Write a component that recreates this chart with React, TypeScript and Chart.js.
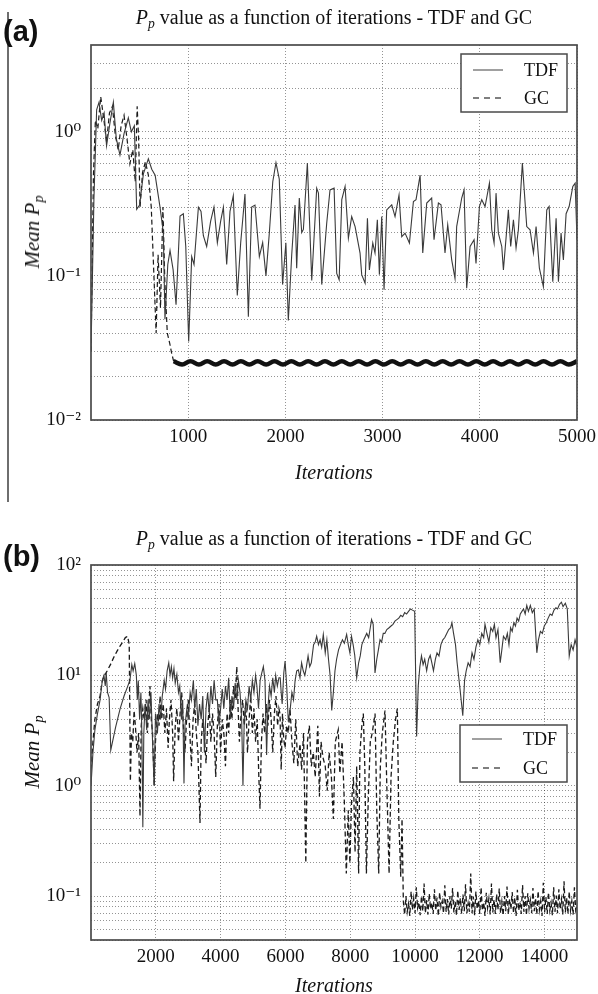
import React, { useEffect, useRef } from 'react';
import { Chart, registerables } from 'chart.js';

Chart.register(...registerables);

const SERIF = "'Liberation Serif', 'DejaVu Serif', serif";
const SANS = "'Liberation Sans', Arial, sans-serif";

// ---------------- Panel (a) data ----------------
const tdfAIters = [
  0, 30, 58, 82, 110, 135, 160, 195, 230, 260,
  298, 340, 384, 415, 446, 470, 500, 539, 590, 625,
  660, 710, 744, 761, 790, 813, 845, 875, 916, 950,
  975, 1005, 1036, 1060, 1105, 1132, 1156, 1190, 1231, 1265,
  1300, 1334, 1362, 1396, 1430, 1464, 1505, 1540, 1584, 1619,
  1653, 1687, 1732, 1766, 1800, 1835, 1870, 1903, 1937, 1971,
  2005, 2030, 2065, 2099, 2116, 2143, 2168, 2185, 2226, 2271,
  2322, 2340, 2374, 2425, 2459, 2501, 2528, 2553, 2580, 2614,
  2648, 2682, 2717, 2768, 2785, 2820, 2844, 2864, 2899, 2922,
  2946, 2967, 2991, 3015, 3042, 3094, 3128, 3169, 3197, 3231,
  3276, 3317, 3344, 3386, 3413, 3454, 3505, 3529, 3574, 3601,
  3642, 3670, 3711, 3745, 3762, 3814, 3838, 3865, 3900, 3941,
  3961, 3996, 4020, 4054, 4099, 4123, 4147, 4167, 4191, 4226,
  4243, 4294, 4318, 4346, 4373, 4397, 4438, 4483, 4517, 4552,
  4579, 4613, 4654, 4689, 4713, 4751, 4785, 4809, 4836, 4860,
  4888, 4919, 4957, 4981, 5000,
];
const tdfAValues = [
  0.03, 0.34, 1.42, 1.6, 1.2, 1.35, 0.8, 1.15, 1.6, 0.9,
  0.69, 0.97, 1.25, 1.0, 1.1, 0.29, 0.31, 0.51, 0.65, 0.55,
  0.5, 0.3, 0.2, 0.05, 0.12, 0.15, 0.11, 0.063, 0.26, 0.27,
  0.16, 0.035, 0.136, 0.12, 0.30, 0.28, 0.19, 0.16, 0.24, 0.30,
  0.17, 0.24, 0.30, 0.12, 0.28, 0.36, 0.073, 0.17, 0.37, 0.052,
  0.30, 0.31, 0.136, 0.17, 0.10, 0.2, 0.45, 0.61, 0.47, 0.087,
  0.17, 0.049, 0.14, 0.31, 0.113, 0.347, 0.2, 0.21, 0.606, 0.093,
  0.406, 0.375, 0.087, 0.232, 0.395, 0.406, 0.104, 0.094, 0.338, 0.417,
  0.183, 0.258, 0.22, 0.144, 0.102, 0.089, 0.251, 0.11, 0.169, 0.144,
  0.245, 0.102, 0.258, 0.08, 0.287, 0.311, 0.258, 0.365, 0.187, 0.198,
  0.169, 0.328, 0.338, 0.50, 0.144, 0.32, 0.347, 0.178, 0.32, 0.311,
  0.144, 0.226, 0.129, 0.096, 0.22, 0.347, 0.395, 0.082, 0.16, 0.178,
  0.122, 0.303, 0.338, 0.303, 0.44, 0.209, 0.169, 0.375, 0.198, 0.16,
  0.11, 0.287, 0.16, 0.245, 0.156, 0.209, 0.606, 0.22, 0.209, 0.144,
  0.22, 0.113, 0.084, 0.287, 0.303, 0.091, 0.251, 0.091, 0.198, 0.129,
  0.27, 0.303, 0.417, 0.44, 0.178,
];
const gcAIters = [
  0, 25, 45, 70, 100, 130, 160, 190, 220, 250,
  280, 310, 340, 370, 400, 430, 455, 475, 490, 505,
  530, 560, 590, 620, 650, 670, 690, 715, 740, 760,
  785, 810, 830, 850,
];
const gcAValues = [
  0.03, 0.5, 1.2, 1.05, 1.75, 1.25, 0.85, 1.35, 1.5, 0.95,
  0.75, 1.1, 1.3, 0.9, 0.6, 0.75, 0.45, 1.5, 0.9, 0.3,
  0.52, 0.62, 0.5, 0.3, 0.09, 0.04, 0.14, 0.06, 0.3, 0.09,
  0.04, 0.034, 0.029, 0.0256,
];
const gcABandIters = [
  850, 937, 1023, 1110, 1196, 1283, 1369, 1456, 1542, 1629,
  1715, 1802, 1888, 1975, 2061, 2148, 2234, 2321, 2407, 2494,
  2580, 2667, 2753, 2840, 2926, 3013, 3099, 3186, 3272, 3359,
  3445, 3532, 3618, 3705, 3791, 3878, 3964, 4051, 4137, 4224,
  4310, 4397, 4483, 4570, 4656, 4743, 4829, 4916, 5000,
];
const gcABandValues = [
  0.0256, 0.0243, 0.0256, 0.0243, 0.0256, 0.0243, 0.0256, 0.0243, 0.0256, 0.0243,
  0.0256, 0.0243, 0.0256, 0.0243, 0.0256, 0.0243, 0.0256, 0.0243, 0.0256, 0.0243,
  0.0256, 0.0243, 0.0256, 0.0243, 0.0256, 0.0243, 0.0256, 0.0243, 0.0256, 0.0243,
  0.0256, 0.0243, 0.0256, 0.0243, 0.0256, 0.0243, 0.0256, 0.0243, 0.0256, 0.0243,
  0.0256, 0.0243, 0.0256, 0.0243, 0.0256, 0.0243, 0.0256, 0.0243, 0.0256,
];
const xTicksA = [1000, 2000, 3000, 4000, 5000];
const yMajorA = [0.01, 0.1, 1];
const yMajorLabelsA = ['10⁻²', '10⁻¹', '10⁰'];
const yMinorA = [0.02, 0.03, 0.04, 0.05, 0.06, 0.07, 0.08, 0.09, 0.2, 0.3, 0.4, 0.5, 0.6, 0.7, 0.8, 0.9, 2, 3];

// ---------------- Panel (b) data ----------------
const tdfBIters = [
  0, 60, 120, 200, 280, 350, 400, 440, 470, 510,
  560, 610, 760, 900, 1020, 1100, 1200, 1260, 1300, 1350,
  1400, 1430, 1460, 1500, 1540, 1570, 1600, 1630, 1670, 1720,
  1760, 1800, 1850, 1900, 1950, 1990, 2050, 2100, 2150, 2200,
  2260, 2300, 2350, 2400, 2440, 2480, 2520, 2560, 2600, 2650,
  2700, 2740, 2790, 2830, 2870, 2900, 2960, 3000, 3060, 3100,
  3160, 3200, 3250, 3300, 3350, 3400, 3450, 3500, 3550, 3600,
  3650, 3700, 3750, 3800, 3850, 3900, 3950, 4000, 4050, 4100,
  4150, 4200, 4250, 4300, 4350, 4400, 4450, 4500, 4550, 4600,
  4650, 4690, 4730, 4780, 4830, 4880, 4930, 4980, 5030, 5080,
  5120, 5170, 5220, 5270, 5320, 5370, 5420, 5460, 5510, 5560,
  5610, 5660, 5700, 5750, 5800, 5840, 5870, 5900, 5950, 5990,
  6040, 6090, 6150, 6200, 6250, 6300, 6350, 6400, 6450, 6500,
  6550, 6600, 6650, 6700, 6750, 6800, 6870, 6920, 6965, 7020,
  7070, 7120, 7170, 7230, 7280, 7330, 7380, 7430, 7480, 7530,
  7580, 7640, 7700, 7760, 7820, 7890, 7940, 7990, 8040, 8090,
  8140, 8200, 8260, 8310, 8360, 8420, 8510, 8570, 8620, 8660,
  8710, 8765, 8820, 8870, 8920, 8970, 9020, 9070, 9130, 9200,
  9260, 9320, 9380, 9440, 9500, 9560, 9620, 9680, 9740, 9800,
  9860, 9920, 9990, 10050, 10100, 10150, 10200, 10250, 10300, 10360,
  10420, 10470, 10520, 10570, 10630, 10680, 10740, 10800, 10860, 10920,
  10980, 11040, 11100, 11140, 11190, 11250, 11300, 11390, 11475, 11530,
  11580, 11640, 11700, 11760, 11820, 11880, 11940, 12000, 12060, 12120,
  12160, 12220, 12280, 12340, 12400, 12450, 12500, 12560, 12630, 12680,
  12730, 12800, 12850, 12900, 12950, 13000, 13050, 13100, 13150, 13200,
  13250, 13300, 13350, 13400, 13450, 13500, 13560, 13620, 13680, 13760,
  13810, 13870, 13930, 13990, 14050, 14110, 14170, 14230, 14290, 14350,
  14400, 14460, 14520, 14570, 14640, 14700, 14760, 14820, 14880, 14940,
  15000,
];
const tdfBValues = [
  1.0, 2.0, 3.2, 4.5, 6, 9, 10, 8, 10.5, 7,
  6.3, 2.1, 3.4, 5, 6.5, 7.5, 9, 12.5, 11, 12.8,
  10, 6, 9, 4, 7, 3, 0.42, 3, 5.5, 3.2,
  6, 4, 7, 2.5, 1.0, 4.5, 3, 5.5, 4, 6.5,
  9, 7.5, 11, 13, 10, 12, 9.5, 11.5, 8.5, 10.2,
  7, 8, 4, 6, 1.05, 3.5, 5, 4, 7, 6,
  9, 5, 7.5, 3.5, 5.5, 4, 6.5, 2, 5, 7,
  4.5, 8, 5.5, 9, 6, 6, 3.5, 5, 7.5, 5,
  8, 6, 9.5, 4, 6.5, 5, 8.5, 6, 9, 7,
  4, 1.0, 4, 6, 5, 8, 6, 9, 7, 10,
  8, 5, 9, 10.5, 12, 9, 1.9, 5, 8, 6.5,
  9.5, 7, 10, 8, 9.5, 9.5, 7, 5.5, 10.5, 13.5,
  8, 3.8, 5, 7, 6, 9, 11, 11.2, 9.5, 13,
  11, 10, 12, 15, 12, 13, 19, 20, 22.6, 19,
  21, 18, 23.5, 16, 21, 14, 10, 4.8, 7, 11,
  14, 17, 19, 21, 19.5, 23.5, 19, 16, 22.6, 19,
  15.2, 9.5, 13, 15, 19, 21, 24, 22, 27, 32,
  29, 10.5, 14, 17, 21, 20, 24, 24, 26, 27,
  28, 29, 31, 32, 33, 35, 34, 37, 36, 38,
  40, 39, 38, 2.8, 8, 12, 15, 12.5, 14, 11,
  14, 15.2, 13, 11, 14, 16, 15, 19, 21, 22,
  24, 26, 27, 30, 24, 19, 13, 7.5, 4.3, 9,
  11, 13, 12, 16, 14, 18, 21, 19, 24, 22,
  29, 24, 20, 27, 25, 29, 22, 26, 13, 17,
  22.6, 21, 24, 19, 27, 25, 30, 28, 33, 31,
  36, 38, 40, 36, 43, 38, 43, 37, 40, 16,
  21, 25, 24, 28, 30, 33, 36, 35, 39, 41,
  40, 44, 46, 42, 45, 40, 15, 19, 17, 21,
  18,
];
const gcBIters = [
  0, 60, 120, 200, 280, 350, 420, 500, 600, 700,
  800, 900, 1000, 1060, 1130, 1180, 1215, 1250, 1290, 1330,
  1370, 1420, 1470, 1512, 1550, 1600, 1640, 1700, 1740, 1780,
  1820, 1860, 1900, 1950, 1990, 2050, 2100, 2130, 2180, 2230,
  2280, 2330, 2380, 2420, 2470, 2520, 2550, 2600, 2650, 2700,
  2750, 2800, 2850, 2900, 2950, 3000, 3050, 3100, 3150, 3200,
  3250, 3300, 3364, 3400, 3450, 3500, 3550, 3600, 3650, 3700,
  3750, 3800, 3850, 3900, 3950, 4000, 4050, 4100, 4150, 4200,
  4250, 4300, 4350, 4400, 4450, 4500, 4540, 4580, 4620, 4680,
  4730, 4780, 4830, 4880, 4930, 4980, 5030, 5080, 5130, 5180,
  5216, 5260, 5310, 5360, 5410, 5460, 5510, 5560, 5610, 5660,
  5710, 5760, 5800, 5833, 5870, 5910, 5950, 5990, 6040, 6090,
  6142, 6200, 6260, 6320, 6380, 6450, 6500, 6560, 6630, 6680,
  6740, 6800, 6862, 6920, 7000, 7050, 7100, 7160, 7230, 7290,
  7350, 7420, 7480, 7540, 7630, 7680, 7750, 7820, 7880, 7940,
  7990, 8040, 8100, 8150, 8200, 8260, 8300, 8360, 8405, 8450,
  8500, 8560, 8620, 8680, 8767, 8820, 8880, 8930, 8990, 9074,
  9130, 9200, 9260, 9330, 9400, 9455, 9500, 9560, 9600,
];
const gcBValues = [
  1.4, 2.5, 4, 5.5, 6.5, 9, 10, 11, 12.5, 14.5,
  16.5, 18.5, 20.5, 22, 22.6, 19, 1.1, 3, 2.5, 4.8,
  3.5, 2, 3, 0.53, 3.5, 5, 4, 6, 3, 5,
  8, 4, 3, 1.0, 2.5, 4.5, 3.5, 6.5, 4, 5.5,
  3, 5, 2.2, 4, 6, 3, 1.1, 3.5, 5, 2.5,
  4.5, 7, 3.5, 2, 4, 6, 3, 1.5, 4, 5.5,
  3, 2, 0.46, 2.5, 4, 2.8, 1.6, 3.5, 5, 2.5,
  4.5, 3, 1.2, 3.5, 5.5, 2, 4, 3, 1.5, 4.5,
  3, 6, 4, 8, 6, 12, 5, 2.5, 4, 6,
  3.5, 5.5, 2, 4, 6.5, 3, 5, 2.5, 4, 1.2,
  0.62, 2.5, 4.5, 3, 5.5, 3.5, 6, 4, 2, 4.5,
  6.5, 3.5, 5, 4.5, 1.4, 4.5, 2.6, 2.2, 3.5, 3,
  5, 2.5, 1.6, 4, 1.5, 2.4, 1.4, 3, 0.2, 2.5,
  3.5, 1.5, 2, 1.2, 3.5, 0.8, 2.5, 1.8, 1.5, 0.9,
  2, 1.2, 0.5, 2.5, 3.2, 1.3, 2.5, 0.7, 0.16, 0.6,
  0.2, 0.7, 1.2, 0.25, 1.5, 0.16, 2, 3.5, 4.5, 1.5,
  0.16, 0.8, 2.5, 3, 4.5, 0.6, 0.16, 1.5, 3, 4.8,
  1, 0.16, 1.2, 2.5, 4, 5, 0.5, 0.15, 0.5,
];
const gcBBandIters = [
  9640, 9680, 9720, 9760, 9800, 9840, 9880, 9920, 9960, 10000,
  10040, 10080, 10120, 10160, 10200, 10240, 10280, 10320, 10360, 10400,
  10440, 10480, 10520, 10560, 10600, 10640, 10680, 10720, 10760, 10800,
  10840, 10880, 10920, 10960, 11000, 11040, 11080, 11120, 11160, 11200,
  11240, 11280, 11320, 11360, 11400, 11440, 11480, 11520, 11560, 11600,
  11640, 11680, 11720, 11760, 11800, 11840, 11880, 11920, 11960, 12000,
  12040, 12080, 12120, 12160, 12200, 12240, 12280, 12320, 12360, 12400,
  12440, 12480, 12520, 12560, 12600, 12640, 12680, 12720, 12760, 12800,
  12840, 12880, 12920, 12960, 13000, 13040, 13080, 13120, 13160, 13200,
  13240, 13280, 13320, 13360, 13400, 13440, 13480, 13520, 13560, 13600,
  13640, 13680, 13720, 13760, 13800, 13840, 13880, 13920, 13960, 14000,
  14040, 14080, 14120, 14160, 14200, 14240, 14280, 14320, 14360, 14400,
  14440, 14480, 14520, 14560, 14600, 14640, 14680, 14720, 14760, 14800,
  14840, 14880, 14920, 14960, 15000,
];
const gcBBandValues = [
  0.09, 0.068, 0.1, 0.072, 0.085, 0.066, 0.11, 0.075, 0.095, 0.07,
  0.12, 0.078, 0.088, 0.067, 0.1, 0.073, 0.13, 0.07, 0.092, 0.068,
  0.105, 0.076, 0.087, 0.069, 0.115, 0.074, 0.097, 0.066, 0.108, 0.08,
  0.09, 0.07, 0.125, 0.072, 0.094, 0.068, 0.1, 0.077, 0.118, 0.071,
  0.089, 0.067, 0.112, 0.075, 0.096, 0.069, 0.103, 0.073, 0.128, 0.07,
  0.086, 0.072, 0.16, 0.07, 0.099, 0.067, 0.11, 0.076, 0.091, 0.069,
  0.12, 0.074, 0.088, 0.066, 0.107, 0.078, 0.095, 0.068, 0.13, 0.071,
  0.093, 0.069, 0.104, 0.075, 0.117, 0.07, 0.089, 0.067, 0.1, 0.073,
  0.122, 0.068, 0.094, 0.076, 0.109, 0.07, 0.097, 0.066, 0.114, 0.074,
  0.088, 0.069, 0.126, 0.072, 0.1, 0.067, 0.106, 0.077, 0.092, 0.07,
  0.118, 0.073, 0.096, 0.068, 0.111, 0.075, 0.09, 0.066, 0.132, 0.071,
  0.098, 0.069, 0.108, 0.074, 0.087, 0.067, 0.12, 0.072, 0.101, 0.07,
  0.115, 0.076, 0.093, 0.068, 0.136, 0.071, 0.097, 0.069, 0.11, 0.074,
  0.09, 0.068, 0.12, 0.075, 0.085,
];
const xTicksB = [2000, 4000, 6000, 8000, 10000, 12000, 14000];
const yMajorB = [0.1, 1, 10, 100];
const yMajorLabelsB = ['10⁻¹', '10⁰', '10¹', '10²'];
const yMinorB = [0.04, 0.05, 0.06, 0.07, 0.08, 0.09, 0.2, 0.3, 0.4, 0.5, 0.6, 0.7, 0.8, 0.9,
  2, 3, 4, 5, 6, 7, 8, 9, 20, 30, 40, 50, 60, 70, 80, 90];

const legendLabels = ['TDF', 'GC'];

// ---------------- styles ----------------
const GRID = 'rgba(0,0,0,0.42)';
const TDF_COLOR = '#3a3a3a';
const GC_COLOR = '#1a1a1a';
const GC_DASH = [5, 3];

const pts = (xs: number[], ys: number[]) => xs.map((x, i) => ({ x, y: ys[i] }));

type Deco = { boxRight: number; boxTop: number; boxW: number; boxH: number; row1: number; row2: number };

const decoPlugin = (deco: Deco) => ({
  id: 'deco',
  afterDraw(chart: any) {
    const { ctx, chartArea } = chart;
    const { left, top, right, bottom } = chartArea;
    ctx.save();
    ctx.setLineDash([]);
    ctx.strokeStyle = '#4a4a4a';
    ctx.lineWidth = 1.7;
    ctx.strokeRect(left, top, right - left, bottom - top);
    // legend box
    const bx = right - deco.boxRight - deco.boxW;
    const by = top + deco.boxTop;
    ctx.fillStyle = '#fff';
    ctx.fillRect(bx, by, deco.boxW, deco.boxH);
    ctx.strokeStyle = '#4a4a4a';
    ctx.lineWidth = 1.5;
    ctx.strokeRect(bx, by, deco.boxW, deco.boxH);
    const rows = [by + deco.row1, by + deco.row2];
    ctx.font = `18px ${SERIF}`;
    ctx.textBaseline = 'middle';
    ctx.textAlign = 'left';
    legendLabels.forEach((lab, i) => {
      ctx.beginPath();
      ctx.setLineDash(i === 0 ? [] : [6, 5]);
      ctx.strokeStyle = i === 0 ? '#777' : '#555';
      ctx.lineWidth = 1.4;
      ctx.moveTo(bx + 12, rows[i]);
      ctx.lineTo(bx + 42, rows[i]);
      ctx.stroke();
      ctx.setLineDash([]);
      ctx.fillStyle = '#111';
      ctx.fillText(lab, bx + 63, rows[i] + 1);
    });
    ctx.restore();
  },
});

function makeConfig(opts: {
  datasets: any[];
  xMax: number;
  xTicks: number[];
  yMin: number;
  yMax: number;
  yMajor: number[];
  yMajorLabels: string[];
  yMinor: number[];
  padTop: number;
  xHeight: number;
  deco: Deco;
}) {
  const labelMap = new Map<number, string>();
  opts.yMajor.forEach((v, i) => labelMap.set(v, opts.yMajorLabels[i]));
  const yTickVals = [...opts.yMajor, ...opts.yMinor].sort((a, b) => a - b);
  const tickFont = { family: SERIF, size: 19 };
  return {
    type: 'line',
    data: { datasets: opts.datasets },
    plugins: [decoPlugin(opts.deco)],
    options: {
      responsive: false,
      maintainAspectRatio: false,
      animation: false,
      devicePixelRatio: 1,
      events: [],
      layout: { padding: { left: 0, top: opts.padTop, right: 21, bottom: 0 } },
      plugins: { legend: { display: false }, tooltip: { enabled: false }, title: { display: false } },
      elements: { point: { radius: 0 }, line: { fill: false } },
      scales: {
        x: {
          type: 'linear',
          min: 0,
          max: opts.xMax,
          afterBuildTicks: (s: any) => {
            s.ticks = opts.xTicks.map((v) => ({ value: v }));
          },
          afterFit: (s: any) => {
            s.height = opts.xHeight;
          },
          grid: { color: GRID, lineWidth: 1, drawTicks: true, tickLength: 6, tickColor: 'rgba(0,0,0,0)' },
          border: { display: false, dash: [1, 2] },
          ticks: {
            autoSkip: false,
            maxRotation: 0,
            padding: 0,
            color: '#111',
            font: tickFont,
            callback: (v: number) => String(v),
          },
        },
        y: {
          type: 'logarithmic',
          min: opts.yMin,
          max: opts.yMax,
          afterBuildTicks: (s: any) => {
            s.ticks = yTickVals.map((v) => ({ value: v, major: labelMap.has(v) }));
          },
          afterFit: (s: any) => {
            s.width = 91;
          },
          grid: { color: GRID, lineWidth: 1, drawTicks: false },
          border: { display: false, dash: [1, 2] },
          ticks: {
            autoSkip: false,
            padding: 10,
            color: '#111',
            font: tickFont,
            callback: (v: number) => labelMap.get(v) ?? '',
          },
        },
      },
    },
  } as any;
}

const Pp = () => (
  <>
    <i>P</i>
    <i style={{ fontSize: '0.68em', position: 'relative', top: '0.28em' }}>p</i>
  </>
);

export default function App() {
  const refA = useRef<HTMLCanvasElement>(null);
  const refB = useRef<HTMLCanvasElement>(null);

  useEffect(() => {
    const cfgA = makeConfig({
      datasets: [
        { label: 'TDF', data: pts(tdfAIters, tdfAValues), borderColor: TDF_COLOR, borderWidth: 1.1, pointRadius: 0, tension: 0 },
        { label: 'GC', data: pts(gcAIters, gcAValues), borderColor: GC_COLOR, borderWidth: 1.2, borderDash: GC_DASH, pointRadius: 0, tension: 0 },
        { label: 'GC', data: pts(gcABandIters, gcABandValues), borderColor: '#111', borderWidth: 4.5, pointRadius: 0, tension: 0.4 },
      ],
      xMax: 5000,
      xTicks: xTicksA,
      yMin: 0.01,
      yMax: 4,
      yMajor: yMajorA,
      yMajorLabels: yMajorLabelsA,
      yMinor: yMinorA,
      padTop: 45,
      xHeight: 80,
      deco: { boxRight: 10, boxTop: 9, boxW: 106, boxH: 58, row1: 16, row2: 44 },
    });
    const cfgB = makeConfig({
      datasets: [
        { label: 'TDF', data: pts(tdfBIters, tdfBValues), borderColor: TDF_COLOR, borderWidth: 1.1, pointRadius: 0, tension: 0 },
        { label: 'GC', data: [...pts(gcBIters, gcBValues), ...pts(gcBBandIters, gcBBandValues)], borderColor: GC_COLOR, borderWidth: 1.3, borderDash: GC_DASH, pointRadius: 0, tension: 0 },
      ],
      xMax: 15000,
      xTicks: xTicksB,
      yMin: 0.04,
      yMax: 100,
      yMajor: yMajorB,
      yMajorLabels: yMajorLabelsB,
      yMinor: yMinorB,
      padTop: 65,
      xHeight: 54,
      deco: { boxRight: 10, boxTop: 160, boxW: 107, boxH: 57, row1: 14, row2: 43 },
    });
    const a = new Chart(refA.current!, cfgA);
    const b = new Chart(refB.current!, cfgB);
    return () => {
      a.destroy();
      b.destroy();
    };
  }, []);

  const abs = (s: React.CSSProperties): React.CSSProperties => ({ position: 'absolute', zIndex: 2, whiteSpace: 'nowrap', ...s });

  return (
    <div style={{ position: 'absolute', left: 0, top: 0, width: 598, height: 994, background: '#fff', overflow: 'hidden', fontFamily: SERIF, color: '#111' }}>
      <canvas ref={refA} width={598} height={500} style={{ position: 'absolute', left: 0, top: 0, width: 598, height: 500 }} />
      <canvas ref={refB} width={598} height={494} style={{ position: 'absolute', left: 0, top: 500, width: 598, height: 494 }} />

      {/* page artefact: vertical rule */}
      <div style={abs({ left: 7, top: 12, width: 2, height: 490, background: '#6e6e6e' })} />

      {/* panel (a) texts */}
      <div style={abs({ left: 3, top: 16, fontFamily: SANS, fontWeight: 700, fontSize: 29, lineHeight: '30px' })}>(a)</div>
      <div style={abs({ left: 91, width: 486, top: 5, textAlign: 'center', fontSize: 20, lineHeight: '24px' })}>
        <Pp /> value as a function of iterations - TDF and GC
      </div>
      <div style={abs({ left: 33, top: 232, transform: 'translate(-50%, -50%) rotate(-90deg)', fontSize: 21, fontStyle: 'italic', lineHeight: '24px' })}>
        Mean <Pp />
      </div>
      <div style={abs({ left: 91, width: 486, top: 460, textAlign: 'center', fontSize: 20, fontStyle: 'italic', lineHeight: '24px' })}>Iterations</div>

      {/* panel (b) texts */}
      <div style={abs({ left: 3, top: 541, fontFamily: SANS, fontWeight: 700, fontSize: 29, lineHeight: '30px' })}>(b)</div>
      <div style={abs({ left: 91, width: 486, top: 526, textAlign: 'center', fontSize: 20, lineHeight: '24px' })}>
        <Pp /> value as a function of iterations - TDF and GC
      </div>
      <div style={abs({ left: 33, top: 752, transform: 'translate(-50%, -50%) rotate(-90deg)', fontSize: 21, fontStyle: 'italic', lineHeight: '24px' })}>
        Mean <Pp />
      </div>
      <div style={abs({ left: 91, width: 486, top: 973, textAlign: 'center', fontSize: 20, fontStyle: 'italic', lineHeight: '24px' })}>Iterations</div>
    </div>
  );
}
